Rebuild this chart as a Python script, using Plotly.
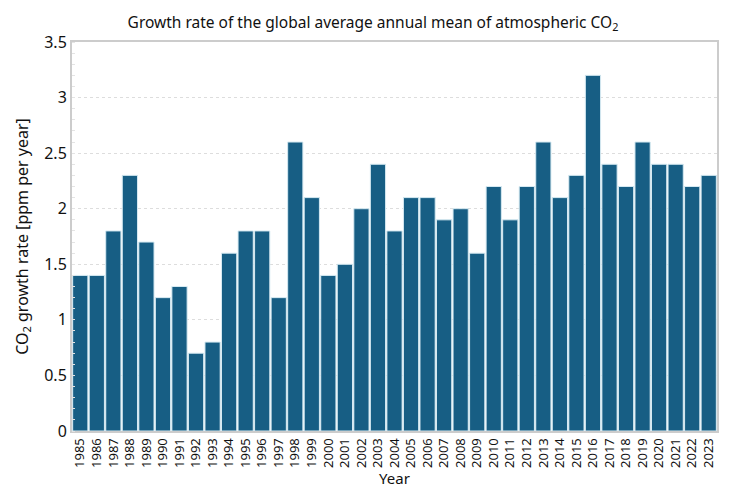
import plotly.graph_objects as go

years = [str(y) for y in range(1985, 2024)]
growth = [1.4, 1.4, 1.8, 2.3, 1.7, 1.2, 1.3, 0.7, 0.8, 1.6,
          1.8, 1.8, 1.2, 2.6, 2.1, 1.4, 1.5, 2.0, 2.4, 1.8,
          2.1, 2.1, 1.9, 2.0, 1.6, 2.2, 1.9, 2.2, 2.6, 2.1,
          2.3, 3.2, 2.4, 2.2, 2.6, 2.4, 2.4, 2.2, 2.3]
y_ticks = [0, 0.5, 1, 1.5, 2, 2.5, 3, 3.5]
y_tick_labels = ["0", "0.5", "1", "1.5", "2", "2.5", "3", "3.5"]

font = "Noto Sans"

fig = go.Figure()
fig.add_trace(go.Bar(
    x=years, y=growth,
    marker=dict(color="#175e84", line=dict(color="#d6eaf2", width=1)),
    width=0.92,
))

fig.update_layout(
    width=730, height=480,
    margin=dict(l=64, r=21, t=34, b=57),
    paper_bgcolor="white", plot_bgcolor="white",
    font=dict(family=font, color="#111"),
    showlegend=False,
    title=dict(
        text="Growth rate of the global average annual mean of atmospheric CO<sub>2</sub>",
        x=0.5, xanchor="center", y=0.97, yanchor="middle",
        font=dict(family=font, size=15.5, color="#111"),
    ),
    xaxis=dict(
        type="category",
        tickangle=-90,
        automargin=False,
        tickfont=dict(size=13, color="#111"),
        title=dict(text="Year", font=dict(size=15), standoff=0),
        showline=True, linecolor="#cccccc", linewidth=2, mirror=True,
        showgrid=False, ticks="",
    ),
    yaxis=dict(
        range=[0, 3.5],
        tickvals=y_ticks, ticktext=y_tick_labels,
        tickfont=dict(size=16, color="#111"),
        title=dict(text="CO<sub>2</sub> growth rate [ppm per year]", font=dict(size=16), standoff=12),
        showline=True, linecolor="#cccccc", linewidth=2, mirror=True,
        showgrid=True, gridcolor="#dddddd", griddash="dot", gridwidth=1,
        ticks="", zeroline=False,
        minor=dict(dtick=0.1, ticks="inside", ticklen=3, tickcolor="#e4e4e4", showgrid=False),
    ),
)

fig.write_html("out.html")
